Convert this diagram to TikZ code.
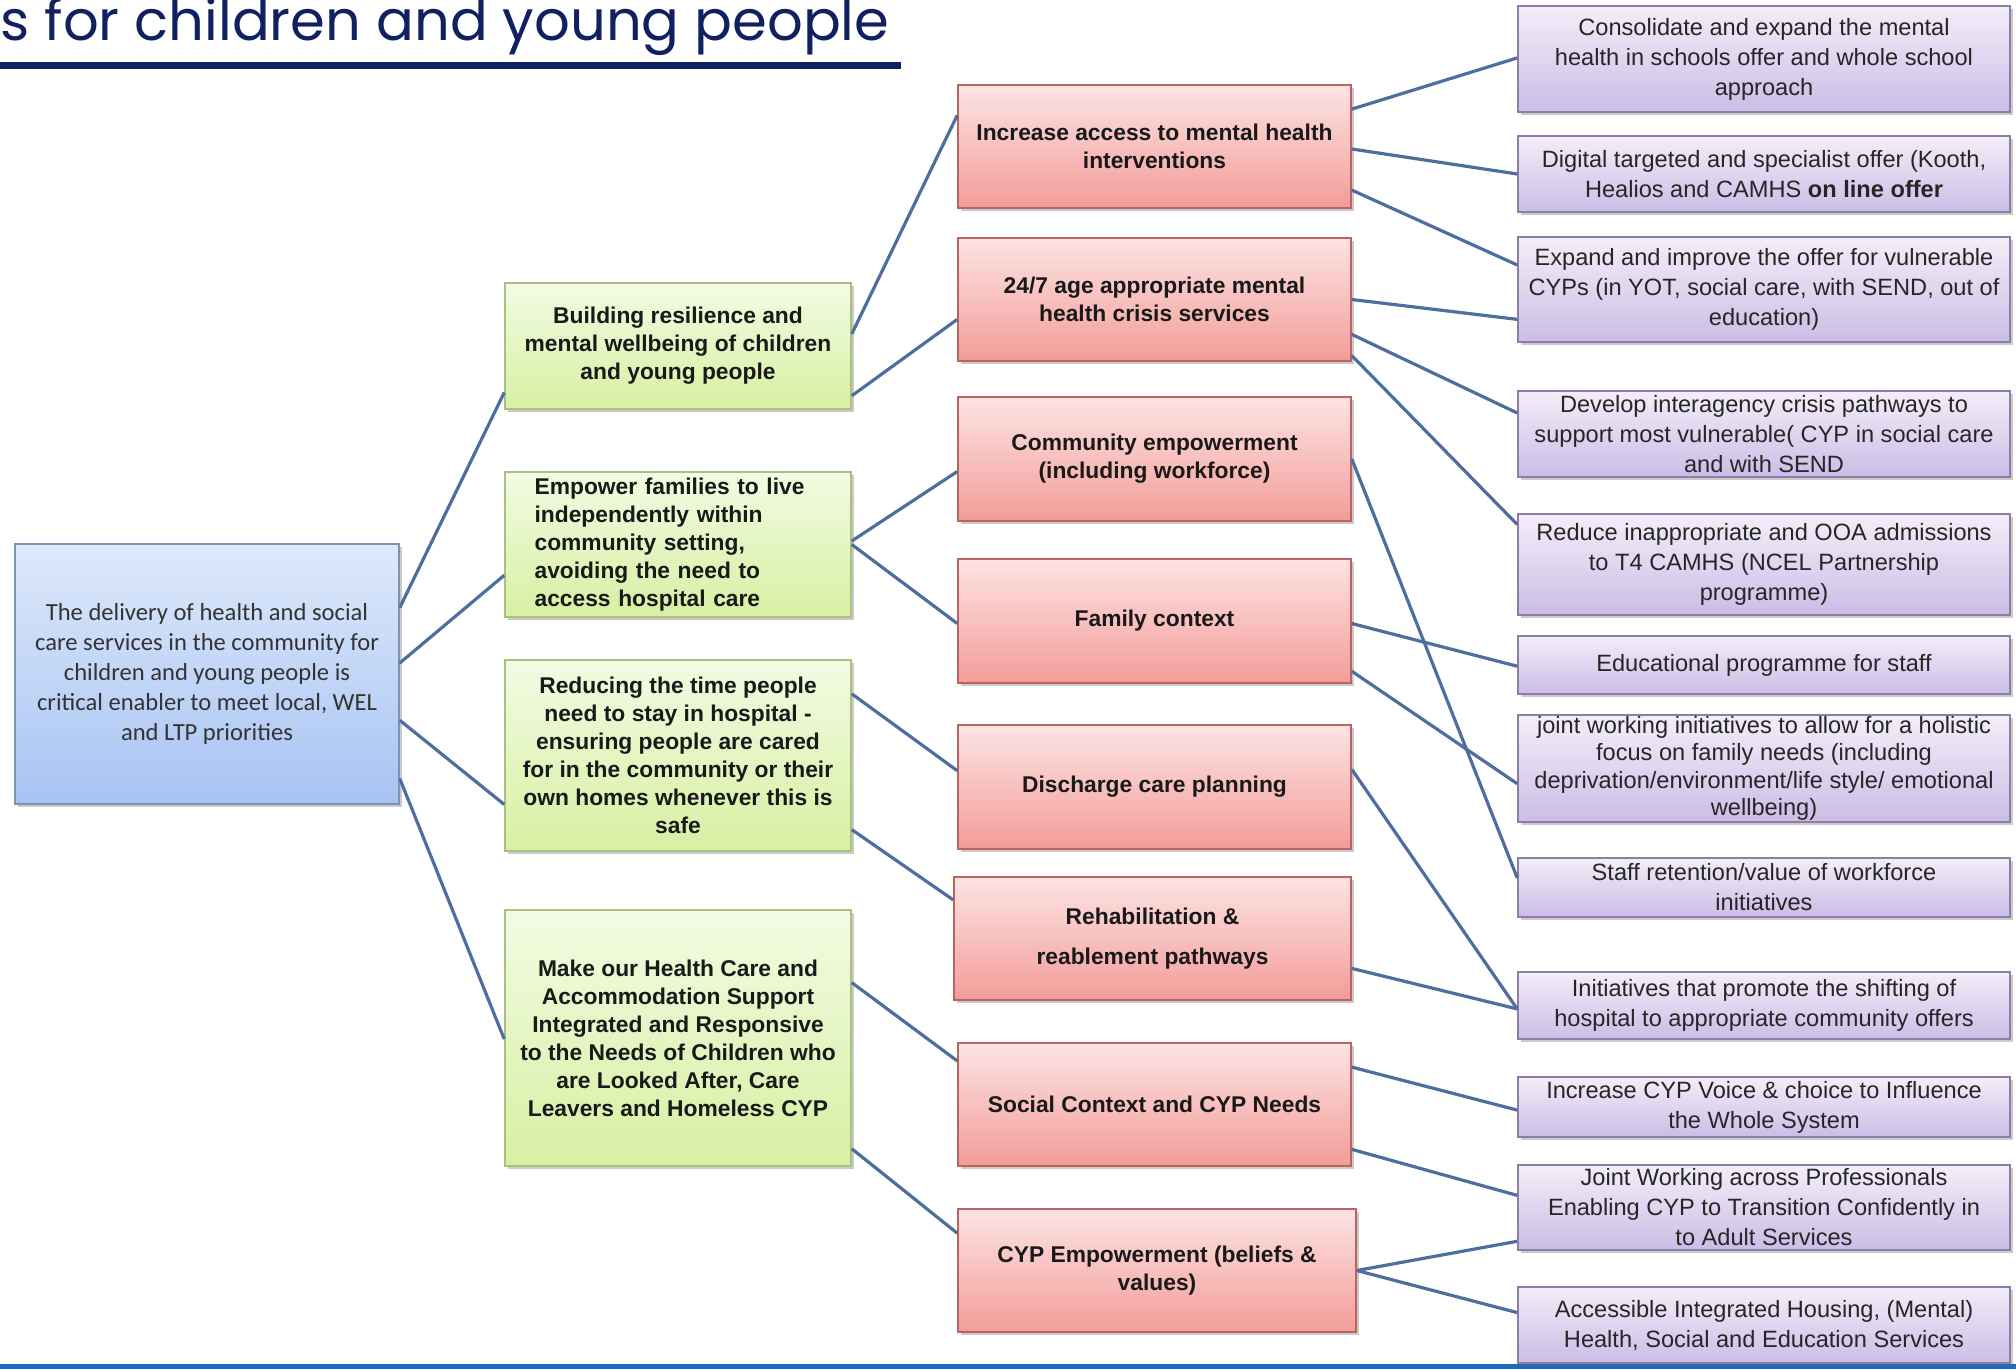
\documentclass[tikz,border=0pt]{standalone}
\usepackage{fontspec}
\setmainfont{Liberation Sans}
\newfontfamily\calibfont{Carlito}
\newfontfamily\titlefont{Poppins}
\usetikzlibrary{calc,shadows}
\definecolor{conn}{RGB}{79,110,160}
\definecolor{titleblue}{RGB}{16,32,96}
\definecolor{bottomblue}{RGB}{30,105,195}
\definecolor{bluetop}{RGB}{222,233,251}
\definecolor{bluebot}{RGB}{167,195,243}
\definecolor{blueborder}{RGB}{127,147,176}
\definecolor{greentop}{RGB}{243,251,227}
\definecolor{greenbot}{RGB}{214,240,162}
\definecolor{greenborder}{RGB}{170,192,128}
\definecolor{redtop}{RGB}{252,228,227}
\definecolor{redbot}{RGB}{243,156,153}
\definecolor{redborder}{RGB}{185,100,97}
\definecolor{purpletop}{RGB}{243,238,249}
\definecolor{purplebot}{RGB}{203,189,230}
\definecolor{purpleborder}{RGB}{140,126,166}
\definecolor{boxtext}{RGB}{25,25,25}
\tikzset{
  box/.style={draw, line width=0.8pt, inner sep=0pt, align=center, text=boxtext,
    drop shadow={shadow xshift=1.5pt, shadow yshift=-1.5pt, opacity=0.35, fill=black!60}},
  bluebox/.style={box, draw=blueborder, top color=bluetop, bottom color=bluebot,
    font=\calibfont\fontsize{12.3}{15}\selectfont, text=black!80},
  greenbox/.style={box, draw=greenborder, top color=greentop, bottom color=greenbot,
    font=\bfseries\fontsize{11.4}{14}\selectfont, minimum width=173pt},
  redbox/.style={box, draw=redborder, top color=redtop, bottom color=redbot,
    font=\bfseries\fontsize{11.4}{14}\selectfont, minimum width=196.5pt, minimum height=61.5pt},
  purplebox/.style={box, draw=purpleborder, top color=purpletop, bottom color=purplebot,
    font=\fontsize{11.8}{15}\selectfont, text=black!85, minimum width=246pt},
  link/.style={draw=conn, line width=1.6pt},
}
\begin{document}
\begin{tikzpicture}[x=0.5pt, y=-0.5pt]
\useasboundingbox (0,0) rectangle (2016,1369);
% title
\node[anchor=base west, font=\titlefont\fontsize{28}{32}\selectfont, text=titleblue, inner sep=0pt] (title) at (0,41) {s for children and young people};
\fill[titleblue] (0,62) rectangle (901,69);
\fill[bottomblue] (0,1364) rectangle (2016,1369);

% root
\node[bluebox, minimum width=192pt, minimum height=130pt] (core) at (207,674)
  {The delivery of health and social\\care services in the community for\\children and young people is\\critical enabler to meet local, WEL\\and LTP priorities};

% green column
\node[greenbox, minimum height=63pt] (g1) at (678,346)
  {Building resilience and\\mental wellbeing of children\\and young people};
\node[greenbox, minimum height=72.5pt, align=left, text width=143.4pt] (g2) at (678,544.5)
  {Empower families to live\\independently within\\community setting,\\avoiding the need to\\access hospital care};
\node[greenbox, minimum height=95.5pt] (g3) at (678,755.5)
  {Reducing the time people\\need to stay in hospital -\\ensuring people are cared\\for in the community or their\\own homes whenever this is\\safe};
\node[greenbox, minimum height=128pt] (g4) at (678,1038)
  {Make our Health Care and\\Accommodation Support\\Integrated and Responsive\\to the Needs of Children who\\are Looked After, Care\\Leavers and Homeless CYP};

% red column
\node[redbox] (r1) at (1154.5,146.5) {Increase access to mental health\\interventions};
\node[redbox] (r2) at (1154.5,299.5) {24/7 age appropriate mental\\health crisis services};
\node[redbox, minimum height=62pt] (r3) at (1154.5,459) {Community empowerment\\(including workforce)};
\node[redbox, minimum height=62pt] (r4) at (1154.5,621) {Family context};
\node[redbox, minimum height=62pt] (r5) at (1154.5,787) {Discharge care planning};
\node[redbox, minimum width=198.5pt] (r6) at (1152.5,938.5) {Rehabilitation \&\\[6pt]reablement pathways};
\node[redbox] (r7) at (1154.5,1104.5) {Social Context and CYP Needs};
\node[redbox, minimum width=199pt] (r8) at (1157,1270.5) {CYP Empowerment (beliefs \&\\values)};

% purple column
\node[purplebox, minimum height=53pt] (p1) at (1764,59)
  {Consolidate and expand the mental\\health in schools offer and whole school\\approach};
\node[purplebox, minimum height=38pt] (p2) at (1764,174)
  {Digital targeted and specialist offer (Kooth,\\Healios and CAMHS \textbf{on line offer}};
\node[purplebox, minimum height=52.5pt] (p3) at (1764,289.5)
  {Expand and improve the offer for vulnerable\\CYPs (in YOT, social care, with SEND, out of\\education)};
\node[purplebox, minimum height=43pt] (p4) at (1764,434)
  {Develop interagency crisis pathways to\\support most vulnerable( CYP in social care\\and with SEND};
\node[purplebox, minimum height=50.5pt] (p5) at (1764,564.5)
  {Reduce inappropriate and OOA admissions\\to T4 CAMHS (NCEL Partnership\\programme)};
\node[purplebox, minimum height=29pt] (p6) at (1764,665)
  {Educational programme for staff};
\node[purplebox, minimum height=53.5pt, font=\fontsize{11.8}{13.7}\selectfont] (p7) at (1764,768.5)
  {joint working initiatives to allow for a holistic\\focus on family needs (including\\deprivation/environment/life style/ emotional\\wellbeing)};
\node[purplebox, minimum height=29.5pt] (p8) at (1764,887.5)
  {Staff retention/value of workforce\\initiatives};
\node[purplebox, minimum height=33.5pt] (p9) at (1764,1005.5)
  {Initiatives that promote the shifting of\\hospital to appropriate community offers};
\node[purplebox, minimum height=30pt] (p10) at (1764,1107)
  {Increase CYP Voice \& choice to Influence\\the Whole System};
\node[purplebox, minimum height=42.5pt] (p11) at (1764,1207.5)
  {Joint Working across Professionals\\Enabling CYP to Transition Confidently in\\to Adult Services};
\node[purplebox, minimum height=38pt] (p12) at (1764,1325)
  {Accessible Integrated Housing, (Mental)\\Health, Social and Education Services};

% root -> green
\draw[link] ($(core.north east)!0.246!(core.south east)$) -- ($(g1.north west)!0.865!(g1.south west)$);
\draw[link] ($(core.north east)!0.458!(core.south east)$) -- ($(g2.north west)!0.71!(g2.south west)$);
\draw[link] ($(core.north east)!0.677!(core.south east)$) -- ($(g3.north west)!0.754!(g3.south west)$);
\draw[link] ($(core.north east)!0.9!(core.south east)$) -- ($(g4.north west)!0.504!(g4.south west)$);

% green -> red
\draw[link] ($(g1.north east)!0.405!(g1.south east)$) -- ($(r1.north west)!0.25!(r1.south west)$);
\draw[link] ($(g1.north east)!0.89!(g1.south east)$) -- ($(r2.north west)!0.66!(r2.south west)$);
\draw[link] ($(g2.north east)!0.476!(g2.south east)$) -- ($(r3.north west)!0.6!(r3.south west)$);
\draw[link] ($(g2.north east)!0.5!(g2.south east)$) -- ($(r4.north west)!0.52!(r4.south west)$);
\draw[link] ($(g3.north east)!0.18!(g3.south east)$) -- ($(r5.north west)!0.37!(r5.south west)$);
\draw[link] ($(g3.north east)!0.885!(g3.south east)$) -- ($(r6.north west)!0.19!(r6.south west)$);
\draw[link] ($(g4.north east)!0.285!(g4.south east)$) -- ($(r7.north west)!0.15!(r7.south west)$);
\draw[link] ($(g4.north east)!0.93!(g4.south east)$) -- ($(r8.north west)!0.2!(r8.south west)$);

% red -> purple
\draw[link] ($(r1.north east)!0.2!(r1.south east)$) -- ($(p1.north west)!0.49!(p1.south west)$);
\draw[link] ($(r1.north east)!0.52!(r1.south east)$) -- ($(p2.north west)!0.5!(p2.south west)$);
\draw[link] ($(r1.north east)!0.85!(r1.south east)$) -- ($(p3.north west)!0.27!(p3.south west)$);
\draw[link] ($(r2.north east)!0.5!(r2.south east)$) -- ($(p3.north west)!0.78!(p3.south west)$);
\draw[link] ($(r2.north east)!0.78!(r2.south east)$) -- ($(p4.north west)!0.26!(p4.south west)$);
\draw[link] ($(r2.north east)!0.95!(r2.south east)$) -- ($(p5.north west)!0.11!(p5.south west)$);
\draw[link] ($(r3.north east)!0.5!(r3.south east)$) -- ($(p8.north west)!0.34!(p8.south west)$);
\draw[link] ($(r4.north east)!0.52!(r4.south east)$) -- ($(p6.north west)!0.52!(p6.south west)$);
\draw[link] ($(r4.north east)!0.9!(r4.south east)$) -- ($(p7.north west)!0.64!(p7.south west)$);
\draw[link] ($(r5.north east)!0.36!(r5.south east)$) -- ($(p9.north west)!0.55!(p9.south west)$);
\draw[link] ($(r6.north east)!0.74!(r6.south east)$) -- ($(p9.north west)!0.55!(p9.south west)$);
\draw[link] ($(r7.north east)!0.2!(r7.south east)$) -- ($(p10.north west)!0.55!(p10.south west)$);
\draw[link] ($(r7.north east)!0.86!(r7.south east)$) -- ($(p11.north west)!0.36!(p11.south west)$);
\draw[link] ($(r8.north east)!0.5!(r8.south east)$) -- ($(p11.north west)!0.89!(p11.south west)$);
\draw[link] ($(r8.north east)!0.5!(r8.south east)$) -- ($(p12.north west)!0.34!(p12.south west)$);
\end{tikzpicture}
\end{document}
